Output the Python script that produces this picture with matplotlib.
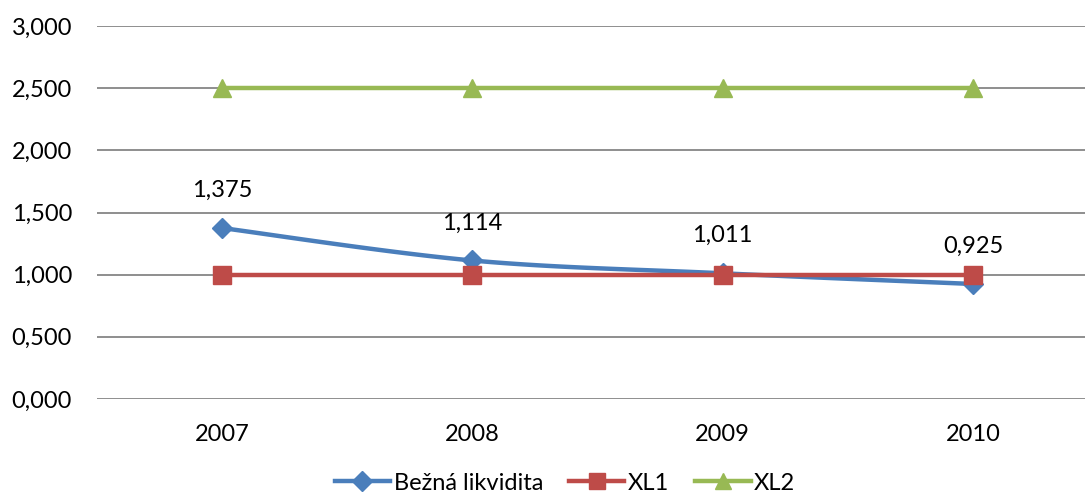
import numpy as np
import matplotlib.pyplot as plt
from matplotlib.lines import Line2D
from matplotlib.ticker import FuncFormatter

plt.rcParams['font.family'] = ['Lato', 'DejaVu Sans']

# data
years = ['2007', '2008', '2009', '2010']
bezna = [1.375, 1.114, 1.011, 0.925]
xl1 = [1.0, 1.0, 1.0, 1.0]
xl2 = [2.5, 2.5, 2.5, 2.5]
labels = ['1,375', '1,114', '1,011', '0,925']

BLUE = '#4A7EBB'
RED = '#BE4B48'
GREEN = '#98B954'


def smooth(xs, ys, n=40):
    # Catmull-Rom style curve, like Excel's smoothed line
    xs = np.asarray(xs, float)
    ys = np.asarray(ys, float)
    px = np.concatenate([[xs[0]], xs, [xs[-1]]])
    py = np.concatenate([[ys[0]], ys, [ys[-1]]])
    outx, outy = [], []
    for i in range(1, len(px) - 2):
        p0 = np.array([px[i - 1], py[i - 1]])
        p1 = np.array([px[i], py[i]])
        p2 = np.array([px[i + 1], py[i + 1]])
        p3 = np.array([px[i + 2], py[i + 2]])
        c1 = p1 + (p2 - p0) / 6
        c2 = p2 - (p3 - p1) / 6
        t = np.linspace(0, 1, n)[:, None]
        pts = ((1 - t) ** 3) * p1 + 3 * ((1 - t) ** 2) * t * c1 + 3 * (1 - t) * t ** 2 * c2 + t ** 3 * p2
        outx.extend(pts[:, 0])
        outy.extend(pts[:, 1])
    return outx, outy


fig = plt.figure(figsize=(10.85, 4.97), dpi=100)
ax = fig.add_axes([97 / 1085, 98 / 497, 1001 / 1085, 373 / 497])

x = np.arange(len(years))

ax.plot(x, xl2, color=GREEN, lw=3.2, marker='^', ms=13, zorder=3)
sx, sy = smooth(x, bezna)
ax.plot(sx, sy, color=BLUE, lw=3.2, zorder=3, solid_capstyle='round')
ax.plot(x, bezna, ls='none', marker='D', ms=10, color=BLUE, zorder=4)
ax.plot(x, xl1, color=RED, lw=3.2, marker='s', ms=13, zorder=5)

for xi, yi, lab in zip(x, bezna, labels):
    ax.annotate(lab, (xi, yi), xytext=(0, 27), textcoords='offset points',
                ha='center', va='center', fontsize=17, color='#000000')

ax.set_xlim(-0.5, 3.5)
ax.set_ylim(0, 3)
ax.set_yticks(np.arange(0, 3.01, 0.5))
ax.yaxis.set_major_formatter(FuncFormatter(lambda v, p: f'{v:.3f}'.replace('.', ',')))
ax.set_xticks(x)
ax.set_xticklabels(years)
ax.tick_params(axis='both', length=0, labelsize=17, colors='#000000')
ax.tick_params(axis='y', pad=18)
ax.tick_params(axis='x', pad=18)
ax.grid(axis='y', color='#868686', lw=1.3)
ax.set_axisbelow(True)
for s in ax.spines.values():
    s.set_visible(False)

handles = [
    Line2D([], [], color=BLUE, lw=3.2, marker='D', ms=10),
    Line2D([], [], color=RED, lw=3.2, marker='s', ms=12),
    Line2D([], [], color=GREEN, lw=3.2, marker='^', ms=12),
]
fig.legend(handles, ['Bežná likvidita', 'XL1', 'XL2'], loc='center',
           bbox_to_anchor=(565 / 1085, 14 / 497), ncol=3, frameon=False,
           fontsize=17, handlelength=2.35, handletextpad=0.15, columnspacing=1.1)

fig.savefig('out.png', dpi=100)
